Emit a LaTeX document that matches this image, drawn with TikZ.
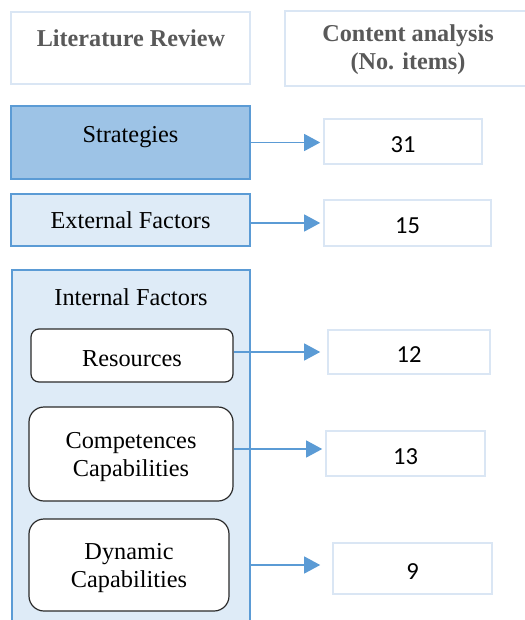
\documentclass[tikz,border=0pt]{standalone}
\usepackage{fontspec}
\setmainfont{Liberation Serif}
\newfontfamily\numfont{Carlito}
\usetikzlibrary{arrows.meta}
\definecolor{bordblue}{HTML}{5B9BD5}
\definecolor{darkfill}{HTML}{9DC3E6}
\definecolor{lightfill}{HTML}{DEEBF7}
\definecolor{paleline}{HTML}{DAE6F4}
\definecolor{hdrgray}{HTML}{595959}
\definecolor{rndline}{HTML}{2B2B2B}
\tikzset{
  hdrbox/.style={draw=paleline, line width=1.6pt, fill=white, inner sep=0pt},
  hdrtext/.style={font=\fontsize{24.2}{28}\selectfont\bfseries, text=hdrgray, align=center, inner sep=0pt},
  lbl/.style={font=\fontsize{24.3}{28}\selectfont},
  bluebox/.style={draw=bordblue, line width=2.5pt, inner sep=0pt, lbl},
  rndbox/.style={draw=rndline, line width=1.2pt, fill=white, inner sep=0pt},
  rndtext/.style={label={[lbl, align=center, inner sep=0pt, yshift=-3pt]center:#1}},
  numbox/.style={draw=paleline, line width=1.6pt, fill=white, inner sep=0pt},
  numtext/.style={label={[font=\numfont\fontsize{24.5}{28}\selectfont, inner sep=0pt, yshift=-3pt]center:#1}},
  arr/.style={draw=bordblue, line width=1.2pt, -{Triangle[length=16pt,width=17pt]}}
}
\begin{document}
\begin{tikzpicture}[x=1pt,y=-1pt]
\useasboundingbox (0,0) rectangle (524,620);
% headers
\node[hdrbox, minimum width=239pt, minimum height=72pt] (hl) at (130.5,48) {};
\node[hdrtext] (hlt) at (131,38) {Literature Review};
\node[hdrbox, minimum width=246pt, minimum height=75pt] (hr) at (408,48.5) {};
\node[hdrtext] (hrt) at (408,50) {Content analysis\\(No. items)};
% left column
\node[bluebox, fill=darkfill, minimum width=239pt, minimum height=73pt] (strat) at (130.5,142.5) {};
\node[lbl, inner sep=0pt] (stratt) at (130.5,137) {Strategies};
\node[bluebox, fill=lightfill, minimum width=239pt, minimum height=52pt] (ext) at (130.5,220) {External Factors};
\node[bluebox, fill=lightfill, minimum width=238pt, minimum height=370pt] (int) at (131,455) {};
\node[lbl, inner sep=0pt] (intt) at (131,297) {Internal Factors};
\node[rndbox, rounded corners=8pt, minimum width=202pt, minimum height=53pt, rndtext={Resources}] (res) at (132,355.5) {};
\node[rndbox, rounded corners=15pt, minimum width=204pt, minimum height=94pt, rndtext={Competences\\Capabilities}] (comp) at (131,454) {};
\node[rndbox, rounded corners=15pt, minimum width=200pt, minimum height=92pt, rndtext={Dynamic\\Capabilities}] (dyn) at (129,565) {};
% numbers
\node[numbox, minimum width=158pt, minimum height=45pt, numtext=31] (n31) at (403,141.5) {};
\node[numbox, minimum width=167pt, minimum height=46pt, numtext=15] (n15) at (407.5,223) {};
\node[numbox, minimum width=162pt, minimum height=44pt, numtext=12] (n12) at (409,352) {};
\node[numbox, minimum width=159pt, minimum height=45pt, numtext=13] (n13) at (405.5,453.5) {};
\node[numbox, minimum width=159pt, minimum height=51pt, numtext=9] (n9) at (412.5,568.5) {};
% arrows
\draw[arr, shorten >=3pt] (strat.east) -- (strat.east -| n31.west);
\draw[arr, shorten >=3pt] (ext.east |- n15.west) -- (n15.west);
\draw[arr, shorten >=7pt] (res.east |- n12.west) -- (n12.west);
\draw[arr, shorten >=3pt] ([yshift=5pt]comp.east) -- ([yshift=5pt]comp.east -| n13.west);
\draw[arr, shorten >=12pt] (int.east |- dyn.east) -- (dyn.east -| n9.west);
\end{tikzpicture}
\end{document}
